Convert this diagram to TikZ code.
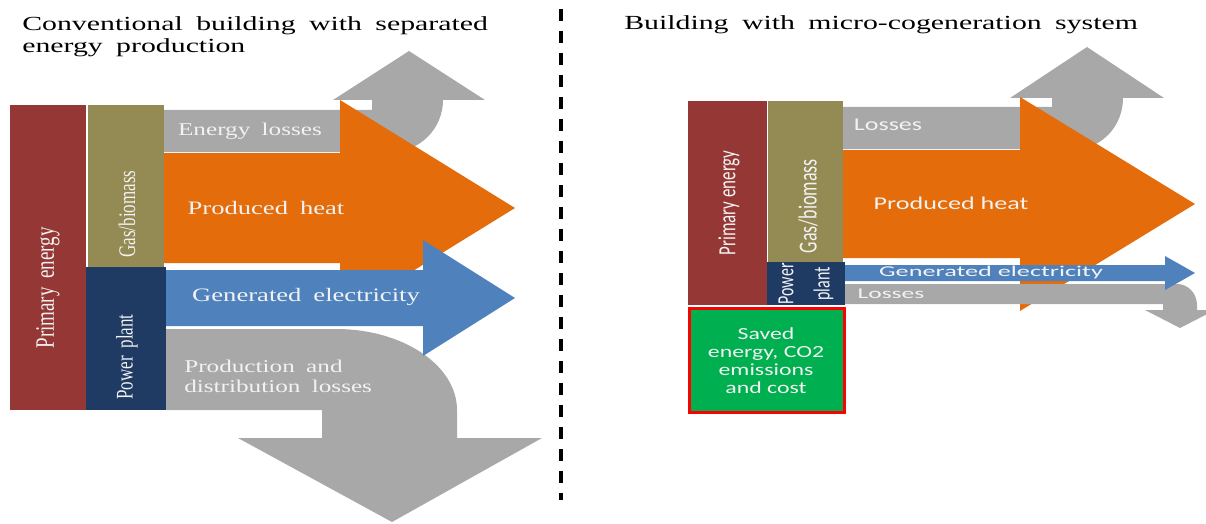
\documentclass[tikz,border=0pt]{standalone}
\usepackage{fontspec}
\newfontfamily\titlefont{Liberation Serif}
\newfontfamily\timesfont[WordSpace=1.8]{Liberation Serif}
\newfontfamily\calibrifont{Carlito}

\definecolor{primaryred}{HTML}{953735}
\definecolor{gasolive}{HTML}{948A54}
\definecolor{plantblue}{HTML}{1F3A63}
\definecolor{lossgray}{HTML}{A8A8A8}
\definecolor{heatorange}{HTML}{E46C0A}
\definecolor{elecblue}{HTML}{4F81BD}
\definecolor{savedgreen}{HTML}{00B050}

\tikzset{
  title/.style={inner sep=0pt, xscale=1.49, font=\titlefont\fontsize{20}{22}\selectfont},
  lefttext/.style={inner sep=0pt, text=white!95!black, xscale=#1, font=\timesfont\fontsize{19}{21}\selectfont},
  lefttext/.default=1.4,
  righttext/.style={inner sep=0pt, text=white!95!black, xscale=#1, font=\calibrifont\fontsize{18}{18}\selectfont},
  righttext/.default=1.45,
  smallfont/.style={font=\calibrifont\fontsize{15}{15}\selectfont}
}

\begin{document}
\begin{tikzpicture}[x=1pt, y=-1pt]
	\useasboundingbox (0,0) rectangle (1206,524);

	% Conventional building
	\node[title, anchor=north west, align=left] (titleconv) at (22,16) {Conventional building with separated\\energy production};

	\fill[primaryred] (10,105) rectangle (86,410);
	\fill[gasolive] (88,105) rectangle (164,267);
	\fill[plantblue] (86,267) rectangle (166,410);

	% flows
	\fill[lossgray] (164,110) -- (372,110) -- (372,100) -- (333,100) -- (409,51) -- (485,100) -- (443,100)
		arc[start angle=0, end angle=90, radius=52] -- (164,152) -- cycle;
	\fill[heatorange] (164,153) -- (340,153) -- (340,100) -- (515,208) -- (340,316) -- (340,263) -- (164,263) -- cycle;
	\fill[lossgray] (166,329) -- (336,329) arc[start angle=-90, end angle=0, x radius=121, y radius=81]
		-- (457,438) -- (542,438) -- (392,522) -- (238,438) -- (322,438) -- (322,410) -- (166,410) -- cycle;
	\fill[elecblue] (166,270) -- (423,270) -- (423,240) -- (515,298) -- (423,356) -- (423,326) -- (166,326) -- cycle;

	\node[lefttext, rotate=90] (primconv) at (48,288) {Primary energy};
	\node[lefttext, rotate=90, font=\timesfont\fontsize{17}{19}\selectfont] (gasconv) at (127,214) {Gas/biomass};
	\node[lefttext, rotate=90, font=\timesfont\fontsize{17}{19}\selectfont] (plantconv) at (127,357) {Power plant};
	\node[lefttext, font=\timesfont\fontsize{18}{20}\selectfont] (lossconv) at (250,131) {Energy losses};
	\node[lefttext] (heatconv) at (266,208) {Produced heat};
	\node[lefttext] (elecconv) at (306,297) {Generated electricity};
	\node[lefttext, font=\timesfont\fontsize{18}{20}\selectfont, anchor=west, align=left] (distconv) at (184,376) {Production and\\distribution losses};

	% divider
	\draw[line width=4pt, dash pattern=on 12pt off 10pt] (561,9) -- (561,500);

	% Building with micro-cogeneration
	\node[title, anchor=base west] (titlemicro) at (624,30) {Building with micro-cogeneration system};

	\fill[primaryred] (688,101) rectangle (767,305);
	\fill[gasolive] (768,101) rectangle (843,262);
	\fill[plantblue] (767,262) rectangle (845,305);

	% flows
	\fill[lossgray] (843,107) -- (1052,107) -- (1052,98) -- (1010,98) -- (1087,47) -- (1164,98) -- (1123,98)
		arc[start angle=0, end angle=90, x radius=48, y radius=51] -- (843,149) -- cycle;
	\fill[heatorange] (843,150) -- (1020,150) -- (1020,97) -- (1195,204) -- (1020,311) -- (1020,258) -- (843,258) -- cycle;
	\fill[lossgray] (845,284) -- (1177,284) arc[start angle=-90, end angle=0, x radius=20, y radius=21]
		-- (1197,310) -- (1215,310) -- (1180,328) -- (1145,310) -- (1163,310) -- (1163,304) -- (845,304) -- cycle;
	\fill[elecblue] (845,265) -- (1165,265) -- (1165,256) -- (1195,273) -- (1165,290) -- (1165,281) -- (845,281) -- cycle;

	\fill[savedgreen] (689,308) rectangle (844,412);
	\draw[red, line width=3pt] (689,308) rectangle (844,412);

	\node[righttext, rotate=90, font=\calibrifont\fontsize{17}{17}\selectfont] (primmicro) at (729,203) {Primary energy};
	\node[righttext, rotate=90] (gasmicro) at (808,206) {Gas/biomass};
	\node[righttext, rotate=90, font=\calibrifont\fontsize{16}{25}\selectfont, align=center] (plantmicro) at (806,284) {Power\\plant};
	\node[righttext] (lossmicro) at (888,125) {Losses};
	\node[righttext] (heatmicro) at (951,203) {Produced heat};
	\node[righttext=1.75, smallfont] (elecmicro) at (991,272) {Generated electricity};
	\node[righttext=1.7, smallfont] (lossmicrolow) at (891,294) {Losses};
	\node[righttext=1.4, font=\calibrifont\fontsize{17}{18}\selectfont, align=center] (savedmicro) at (766,361) {Saved\\energy, CO2\\emissions\\and cost};
\end{tikzpicture}
\end{document}
